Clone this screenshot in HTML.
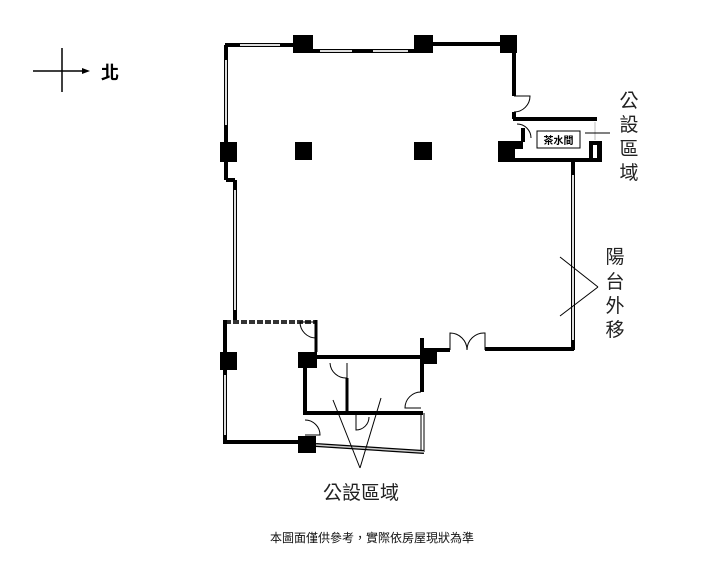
<!DOCTYPE html>
<html><head><meta charset="utf-8"><style>
html,body{margin:0;padding:0;background:#fff;width:710px;height:567px;overflow:hidden}
svg{display:block}
text{font-family:"Liberation Sans","Noto Sans CJK TC",sans-serif}
</style></head><body>
<svg width="710" height="567" viewBox="0 0 710 567" xmlns="http://www.w3.org/2000/svg">
<g stroke="#000" fill="none">
<!-- north arrow -->
<line x1="33" y1="71" x2="84" y2="71" stroke-width="1.5"/>
<polygon points="82,68 90,71 82,74" fill="#000" stroke="none"/>
<line x1="62" y1="48" x2="62" y2="92" stroke-width="1.5"/>

<!-- top walls -->
<line x1="225" y1="45" x2="295" y2="45" stroke-width="4"/>
<line x1="313" y1="51" x2="414" y2="51" stroke-width="4"/>
<line x1="433" y1="44" x2="502" y2="44" stroke-width="4"/>
<line x1="514" y1="44" x2="514" y2="96" stroke-width="4"/>
<line x1="514" y1="112" x2="514" y2="119" stroke-width="4"/>
<line x1="513" y1="119" x2="597" y2="119" stroke-width="4"/>
<line x1="515" y1="160" x2="594" y2="160" stroke-width="4"/>
<line x1="523" y1="128" x2="523" y2="142" stroke-width="4"/>
<!-- left walls -->
<line x1="226" y1="45" x2="226" y2="142" stroke-width="4"/>
<line x1="226" y1="162" x2="226" y2="180" stroke-width="4"/>
<line x1="226" y1="180" x2="235" y2="180" stroke-width="4"/>
<line x1="235" y1="180" x2="235" y2="322" stroke-width="4"/>
<line x1="225" y1="322" x2="316" y2="322" stroke-width="4" stroke="#333" stroke-dasharray="6,2"/>
<line x1="225" y1="320" x2="225" y2="444" stroke-width="4"/>
<line x1="223" y1="442" x2="300" y2="442" stroke-width="4"/>
<line x1="316" y1="320" x2="316" y2="352" stroke-width="3"/>
<!-- lower middle -->
<line x1="317" y1="357" x2="422" y2="357" stroke-width="4"/>
<line x1="422" y1="338" x2="422" y2="392" stroke-width="4"/>
<line x1="437" y1="350" x2="450" y2="350" stroke-width="4"/>
<line x1="485" y1="349" x2="574" y2="349" stroke-width="4"/>
<line x1="573" y1="162" x2="573" y2="350" stroke-width="4"/>
<line x1="305" y1="368" x2="305" y2="415" stroke-width="4"/>
<line x1="303" y1="413" x2="423" y2="413" stroke-width="4"/>
<line x1="347" y1="378" x2="347" y2="413" stroke-width="3"/>
<line x1="421" y1="413" x2="421" y2="452" stroke-width="1"/>
<line x1="424" y1="413" x2="424" y2="452" stroke-width="1"/>
<line x1="316" y1="445" x2="424" y2="452" stroke-width="4"/>
<line x1="316" y1="445" x2="424" y2="452" stroke-width="1.5" stroke="#ccc"/>
</g>
<!-- windows (white inner lines) -->
<g stroke="#ddd" stroke-width="2">
<line x1="240" y1="45" x2="280" y2="45"/>
<line x1="320" y1="51" x2="352" y2="51"/>
<line x1="373" y1="51" x2="408" y2="51"/>
<line x1="226" y1="60" x2="226" y2="125"/>
<line x1="235" y1="190" x2="235" y2="310"/>
<line x1="225" y1="375" x2="225" y2="435"/>
<line x1="573" y1="175" x2="573" y2="340"/>
<line x1="595" y1="122" x2="595" y2="140"/>
</g>
<!-- columns -->
<g fill="#000">
<rect x="293" y="35" width="20" height="18"/>
<rect x="414" y="35" width="19" height="18"/>
<rect x="500" y="35" width="17" height="18"/>
<rect x="220" y="142" width="17" height="20"/>
<rect x="295" y="142" width="17" height="18"/>
<rect x="414" y="142" width="18" height="18"/>
<rect x="498" y="141" width="17" height="21"/>
<rect x="515" y="141" width="8" height="8"/>
<rect x="589" y="141" width="13" height="21"/>
<rect x="220" y="352" width="17" height="18"/>
<rect x="298" y="352" width="19" height="16"/>
<rect x="420" y="348" width="17" height="16"/>
<rect x="298" y="436" width="18" height="17"/>
</g>
<rect x="593" y="145" width="4" height="13" fill="#fff"/>
<!-- doors -->
<g stroke="#000" stroke-width="1" fill="none">
<path d="M514 96 L530 96 A16 16 0 0 1 514 112"/>
<path d="M517 124 A14 14 0 0 1 531 138"/>
<path d="M316 322 L300 322 A16 16 0 0 0 316 338"/>
<path d="M330 363 A16 16 0 0 0 347 378 L347 363"/>
<path d="M421 392 A16 16 0 0 0 405 408 L421 408"/>
<path d="M305 420 A15 15 0 0 1 320 435 L305 435"/>
<path d="M356 413 L356 430 A13 13 0 0 0 369 417"/>
<path d="M450 350 L450 333 A17 17 0 0 1 467 350 A17 17 0 0 1 485 333 L485 350"/>
<!-- leader lines -->
<line x1="333" y1="400" x2="360" y2="468"/>
<line x1="381" y1="398" x2="360" y2="468"/>
<line x1="560" y1="257" x2="598" y2="287"/>
<line x1="560" y1="316" x2="598" y2="287"/>
<line x1="585" y1="133" x2="610" y2="133"/>
</g>
<rect x="537" y="131" width="43" height="17" fill="#fff" stroke="#000" stroke-width="1"/>
<text x="558.5" y="144" font-size="10" font-weight="bold" text-anchor="middle">茶水間</text>
<text x="101" y="79" font-size="18" font-weight="bold">北</text>
<g font-size="19" fill="#222" text-anchor="middle">
<text x="629" y="107">公</text><text x="629" y="131">設</text><text x="629" y="155">區</text><text x="629" y="179">域</text>
<text x="615" y="263">陽</text><text x="615" y="288">台</text><text x="615" y="312">外</text><text x="615" y="336">移</text>
<text x="361" y="499">公設區域</text>
</g>
<text x="372" y="542" font-size="12" text-anchor="middle" fill="#111">本圖面僅供參考，實際依房屋現狀為準</text>
</svg>
</body></html>
